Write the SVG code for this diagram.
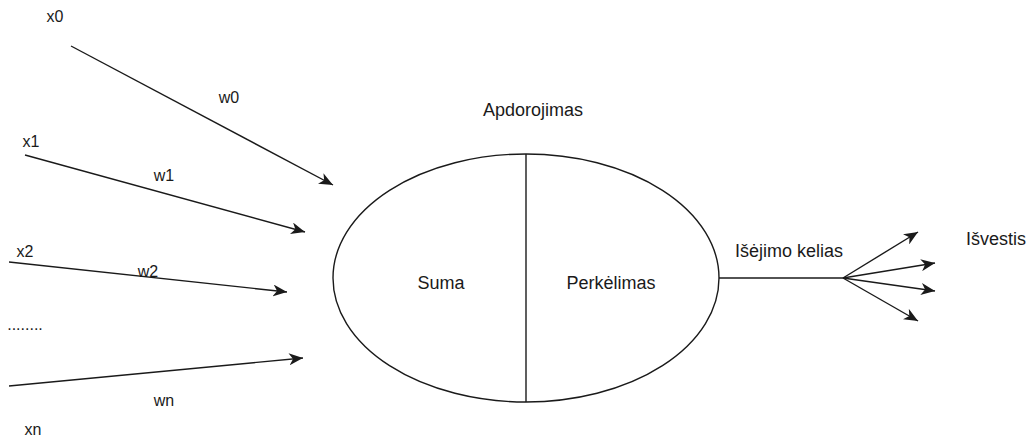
<svg xmlns="http://www.w3.org/2000/svg" width="1030" height="440" viewBox="0 0 1030 440">
<style>
text{font-family:"Liberation Sans",Arial,sans-serif;font-size:18px;fill:#1a1a1a;text-anchor:middle}
.lbl{font-size:16px}
.c{stroke:#1a1a1a;stroke-width:1.4;fill:none}
</style>
<defs>
<marker id="ah" markerUnits="userSpaceOnUse" viewBox="0 0 14 12" refX="14" refY="6" markerWidth="14" markerHeight="12" orient="auto">
<path d="M0,0 L14,6 L0,12 L4,6 Z" fill="#1a1a1a"/>
</marker>
</defs>
<rect width="1030" height="440" fill="#fff"/>
<g id="neuron">
<ellipse cx="526" cy="278" rx="193" ry="124" fill="#fff" stroke="#1a1a1a" stroke-width="1.4"/>
<line x1="526" y1="154" x2="526" y2="402" stroke="#1a1a1a" stroke-width="1.4"/>
<text x="441" y="289">Suma</text>
<text x="611" y="289">Perkėlimas</text>
</g>
<g id="title"><text x="533" y="116">Apdorojimas</text></g>
<g id="inputs" class="lbl">
<text class="lbl" x="55" y="22">x0</text>
<text class="lbl" x="31" y="147">x1</text>
<text class="lbl" x="25" y="257">x2</text>
<text class="lbl" x="25" y="330">........</text>
<text class="lbl" x="33" y="435">xn</text>
</g>
<g id="weights">
<text class="lbl" x="229" y="103">w0</text>
<text class="lbl" x="164" y="181">w1</text>
<text class="lbl" x="148" y="277">w2</text>
<text class="lbl" x="164" y="406">wn</text>
</g>
<g id="output-labels">
<text x="789" y="257">Išėjimo kelias</text>
<text x="996" y="245">Išvestis</text>
</g>
<g id="connectors">
<line class="c" x1="71" y1="46" x2="333" y2="185" marker-end="url(#ah)"/>
<line class="c" x1="25" y1="155" x2="305" y2="232" marker-end="url(#ah)"/>
<line class="c" x1="9" y1="262" x2="287" y2="292" marker-end="url(#ah)"/>
<line class="c" x1="9" y1="386" x2="303" y2="358" marker-end="url(#ah)"/>
<line class="c" x1="719" y1="278" x2="843" y2="278"/>
<line class="c" x1="843" y1="278" x2="918" y2="232" marker-end="url(#ah)"/>
<line class="c" x1="843" y1="278" x2="935" y2="263" marker-end="url(#ah)"/>
<line class="c" x1="843" y1="278" x2="935" y2="291" marker-end="url(#ah)"/>
<line class="c" x1="843" y1="278" x2="918" y2="321" marker-end="url(#ah)"/>
</g>
</svg>
